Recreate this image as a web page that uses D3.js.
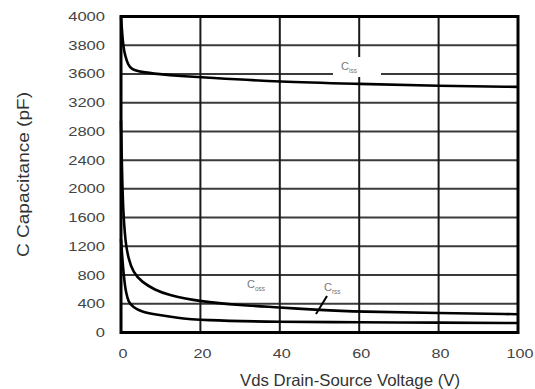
<!DOCTYPE html>
<html>
<head>
<meta charset="utf-8">
<script src="https://cdn.jsdelivr.net/npm/d3@7"></script>
<style>
  body { margin: 0; background: #fff; }
  svg { display: block; font-family: "Liberation Sans", Arial, sans-serif; }
</style>
</head>
<body>
<div id="chart"></div>
<script>
// Data (V in volts, C in pF)
const voltage = [0, 0.3, 0.6, 1, 1.8, 2.6, 4.8, 9.8, 14.8, 21.5, 40, 60, 80, 100];
const ciss = [4000, 3880, 3790, 3731, 3662, 3634, 3614, 3596, 3572, 3549, 3490, 3462, 3432, 3420];

const vOss = [0, 0.3, 0.6, 1, 1.26, 1.84, 3, 5.2, 8.6, 11.8, 20, 30, 40, 50, 60, 80, 100];
const coss = [2950, 2100, 1650, 1359, 1220, 1038, 843, 704, 592, 523, 430, 380, 350, 312, 290, 270, 255];

const vRss = [0, 0.5, 1, 1.26, 1.84, 3, 5.2, 8.6, 13.6, 20, 40, 60, 80, 100];
const crss = [1300, 900, 650, 565, 425, 355, 286, 252, 210, 168, 148, 142, 137, 132];

const yTicks = [0, 400, 800, 1200, 1600, 2000, 2400, 2800, 3200, 3600, 3800, 4000];
const xTicks = [0, 20, 40, 60, 80, 100];

const chartWidth = 535, chartHeight = 389;
const plot = {left: 121, right: 518, top: 16.5, bottom: 332.5};

const svg = d3.select("#chart").append("svg")
    .attr("width", chartWidth)
    .attr("height", chartHeight);

const x = d3.scaleLinear().domain([0, 100]).range([plot.left, plot.right]);
// the y gridlines are evenly spaced even though the tick values are not
const y = d3.scaleLinear()
    .domain(yTicks)
    .range(yTicks.map((d, i) => plot.bottom - i * (plot.bottom - plot.top) / (yTicks.length - 1)));

//Grid
svg.append("g")
    .selectAll("line")
    .data(yTicks)
    .enter().append("line")
    .attr("x1", plot.left).attr("x2", plot.right)
    .attr("y1", d => y(d)).attr("y2", d => y(d))
    .attr("stroke", "#3a3a3a")
    .attr("stroke-width", 2);
svg.append("g")
    .selectAll("line")
    .data(xTicks)
    .enter().append("line")
    .attr("x1", d => x(d)).attr("x2", d => x(d))
    .attr("y1", plot.top).attr("y2", plot.bottom)
    .attr("stroke", "#1a1a1a")
    .attr("stroke-width", 2);

//White patch behind the Ciss label
svg.append("rect")
    .attr("x", 333).attr("y", 57)
    .attr("width", 48).attr("height", 20)
    .attr("fill", "#fff");

//Frame
svg.append("rect")
    .attr("x", plot.left).attr("y", plot.top)
    .attr("width", plot.right - plot.left).attr("height", plot.bottom - plot.top)
    .attr("fill", "none")
    .attr("stroke", "#000")
    .attr("stroke-width", 3);

//Axes
const yAxis = svg.append("g")
    .attr("transform", "translate(" + plot.left + ",0)")
    .call(d3.axisLeft(y).tickValues(yTicks).tickSize(0).tickPadding(16).tickFormat(d3.format("d")));
yAxis.select(".domain").remove();
yAxis.selectAll("text")
    .style("font-size", "12.5px")
    .attr("fill", "#444")
    .attr("textLength", d => String(d).length * 9.2)
    .attr("lengthAdjust", "spacingAndGlyphs");

const xAxis = svg.append("g")
    .attr("transform", "translate(0," + plot.bottom + ")")
    .call(d3.axisBottom(x).tickValues(xTicks).tickSize(0).tickFormat(d3.format("d")));
xAxis.select(".domain").remove();
xAxis.selectAll("text")
    .attr("y", 25).attr("dy", 0)
    .attr("dx", 1.5)
    .style("font-size", "12.5px")
    .attr("fill", "#444")
    .attr("textLength", d => String(d).length * 9)
    .attr("lengthAdjust", "spacingAndGlyphs");

//Curves (smoothed like the hand-drawn datasheet traces)
const line = d3.line()
    .x(d => x(d[0]))
    .y(d => y(d[1]))
    .curve(d3.curveBasis);

[[voltage, ciss], [vOss, coss], [vRss, crss]].forEach(function (s) {
    svg.append("path")
        .datum(s[0].map((v, i) => [v, s[1][i]]))
        .attr("d", line)
        .attr("fill", "none")
        .attr("stroke", "#000")
        .attr("stroke-width", 2.6);
});

//Curve labels
function capLabel(px, py, sub) {
    const t = svg.append("text")
        .attr("x", px).attr("y", py)
        .attr("fill", "#777")
        .style("font-size", "11px");
    t.append("tspan").text("C");
    t.append("tspan").attr("dy", 3).style("font-size", "6.5px").text(sub);
}
capLabel(341, 70, "iss");
capLabel(247, 288, "oss");
capLabel(324, 291, "rss");

// pointer from Crss label to its curve
svg.append("line")
    .attr("x1", 327).attr("y1", 296)
    .attr("x2", 316).attr("y2", 314)
    .attr("stroke", "#000")
    .attr("stroke-width", 2);

//Titles
svg.append("text")
    .attr("x", 350).attr("y", 386)
    .attr("text-anchor", "middle")
    .attr("fill", "#333")
    .style("font-size", "16.5px")
    .attr("textLength", 220)
    .attr("lengthAdjust", "spacingAndGlyphs")
    .text("Vds Drain-Source Voltage (V)");

svg.append("text")
    .attr("transform", "translate(29,174.5) rotate(-90)")
    .attr("text-anchor", "middle")
    .attr("fill", "#333")
    .style("font-size", "16.5px")
    .attr("textLength", 165)
    .attr("lengthAdjust", "spacingAndGlyphs")
    .text("C Capacitance (pF)");
</script>
</body>
</html>
